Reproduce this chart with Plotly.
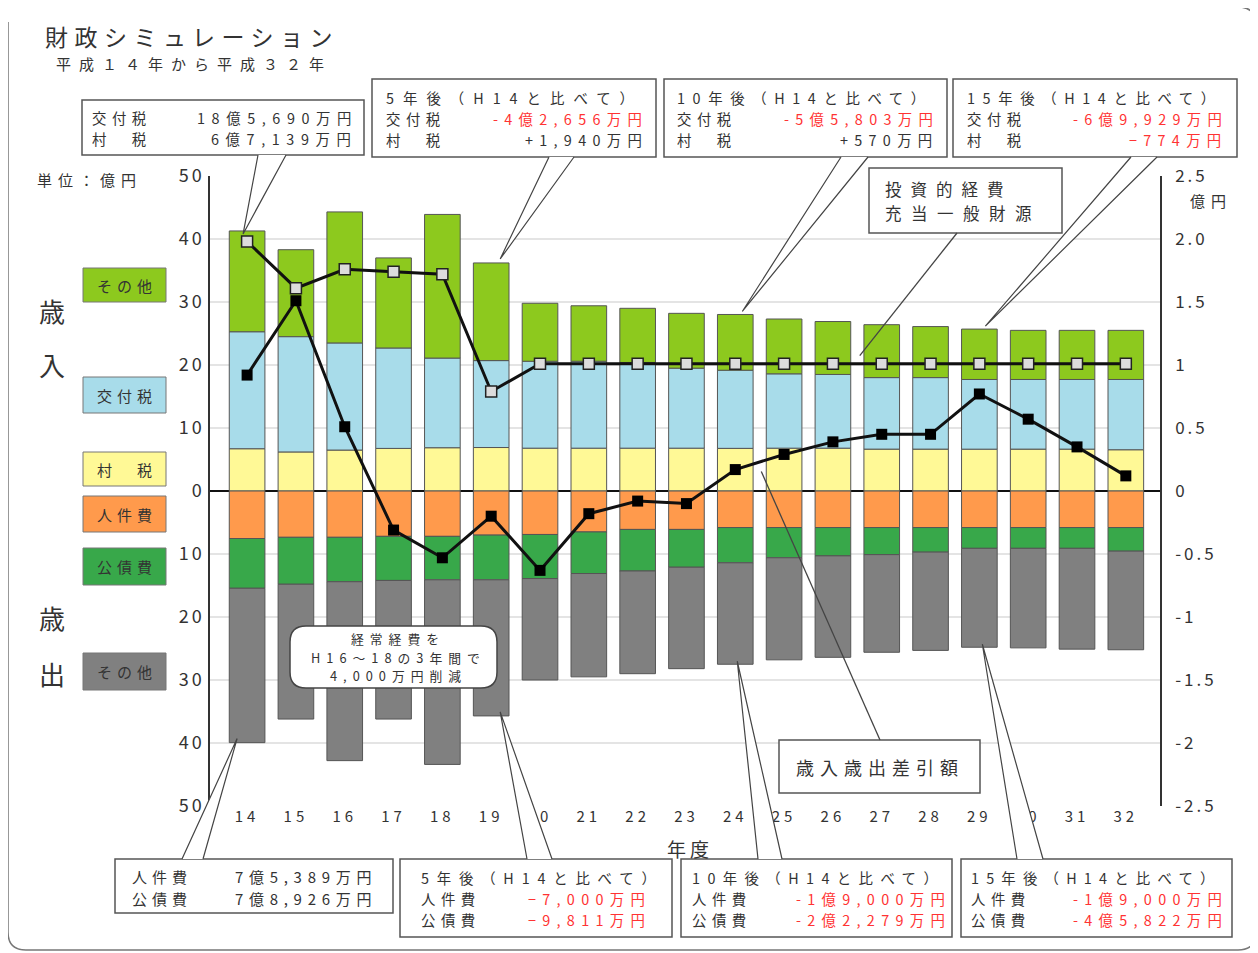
import plotly.graph_objects as go

# ---------------- data ----------------
years = ["14", "15", "16", "17", "18", "19", "20", "21", "22", "23",
         "24", "25", "26", "27", "28", "29", "30", "31", "32"]
# revenue (億円)
murazei = [6.71, 6.2, 6.5, 6.76, 6.87, 6.9, 6.8, 6.8, 6.8, 6.8,
           6.77, 6.8, 6.8, 6.65, 6.65, 6.64, 6.65, 6.65, 6.55]
kofuzei = [18.57, 18.3, 17.0, 15.94, 14.23, 13.8, 13.8, 13.8, 13.6, 12.7,
           12.4, 11.8, 11.7, 11.35, 11.35, 11.06, 11.05, 11.05, 11.15]
rev_other = [16.0, 13.8, 20.8, 14.3, 22.8, 15.5, 9.2, 8.8, 8.6, 8.7,
             8.85, 8.7, 8.4, 8.4, 8.1, 8.0, 7.8, 7.8, 7.8]
# expenditure (億円)
jinkenhi = [7.54, 7.35, 7.35, 7.2, 7.2, 7.0, 6.9, 6.5, 6.1, 6.1,
            5.8, 5.8, 5.8, 5.8, 5.8, 5.8, 5.8, 5.8, 5.8]
kosaihi = [7.9, 7.45, 7.05, 7.0, 6.9, 7.1, 7.0, 6.6, 6.6, 6.0,
           5.6, 4.8, 4.5, 4.3, 3.9, 3.3, 3.3, 3.3, 3.75]
exp_other = [24.5, 21.4, 28.4, 22.0, 29.3, 21.6, 16.1, 16.4, 16.3, 16.1,
             16.1, 16.2, 16.1, 15.5, 15.6, 15.7, 15.8, 16.0, 15.65]
# lines (right axis, 億円)
toshi = [1.98, 1.61, 1.76, 1.74, 1.72, 0.79, 1.01, 1.01, 1.01, 1.01,
         1.01, 1.01, 1.01, 1.01, 1.01, 1.01, 1.01, 1.01, 1.01]
sashihiki = [0.92, 1.51, 0.51, -0.31, -0.53, -0.20, -0.63, -0.18, -0.08, -0.10,
             0.17, 0.29, 0.39, 0.45, 0.45, 0.77, 0.57, 0.35, 0.12]

left_ticks = [-50, -40, -30, -20, -10, 0, 10, 20, 30, 40, 50]
right_ticks = [-2.5, -2, -1.5, -1, -0.5, 0, 0.5, 1, 1.5, 2, 2.5]
right_text = ["-2.5", "-2", "-1.5", "-1", "-0.5", "0", "0.5", "1", "1.5", "2.0", "2.5"]

# ---------------- style ----------------
FONT = "Noto Sans CJK JP"
TXT = "#333333"
RED = "#ff3333"
C_OTHER_R = "#8dc91e"
C_KOFU = "#a8dcea"
C_MURA = "#fff996"
C_JINKEN = "#ff9a4c"
C_KOSAI = "#38a84a"
C_OTHER_E = "#808080"
EDGE = "#555555"

OFF = 8                      # page body margin
FW, FH = 1250, 945
L, R, T, B = 210, 1160, 176, 806   # plot area in screen pixels
XR = [-0.76, 18.7]


def px(x):
    return (x - L) / (R - L)


def py(y):
    return (B - y) / (B - T)


def dx(i):
    return L + (i - XR[0]) / (XR[1] - XR[0]) * (R - L)


def dy(v):
    return B - (v + 50) / 100 * (B - T)


def sp(s, ls=0, color=None):
    st = []
    if ls:
        st.append("letter-spacing:{}px".format(ls))
    if color:
        st.append("color:" + color)
    return "<span style='{}'>{}</span>".format(";".join(st), s)


fig = go.Figure()

bar_common = dict(x=years, marker_line_color=EDGE, marker_line_width=1, hoverinfo="x+y")
fig.add_trace(go.Bar(name="村税", y=murazei, marker_color=C_MURA, **bar_common))
fig.add_trace(go.Bar(name="交付税", y=kofuzei, marker_color=C_KOFU, **bar_common))
fig.add_trace(go.Bar(name="その他(歳入)", y=rev_other, marker_color=C_OTHER_R, **bar_common))
fig.add_trace(go.Bar(name="人件費", y=[-v for v in jinkenhi], marker_color=C_JINKEN, **bar_common))
fig.add_trace(go.Bar(name="公債費", y=[-v for v in kosaihi], marker_color=C_KOSAI, **bar_common))
fig.add_trace(go.Bar(name="その他(歳出)", y=[-v for v in exp_other], marker_color=C_OTHER_E, **bar_common))

fig.add_trace(go.Scatter(name="投資的経費充当一般財源", x=years, y=toshi, yaxis="y2",
                         mode="lines+markers", line=dict(color="#111", width=3),
                         marker=dict(symbol="square", size=11, color="#dcdcdc",
                                     line=dict(color="#222", width=1.5))))
fig.add_trace(go.Scatter(name="歳入歳出差引額", x=years, y=sashihiki, yaxis="y2",
                         mode="lines+markers", line=dict(color="#111", width=3),
                         marker=dict(symbol="square", size=11, color="#000")))

shapes = []
annots = []


def box(x0, y0, x1, y1, fill="white", lw=1.5, color="#555"):
    shapes.append(dict(type="rect", xref="paper", yref="paper", layer="above",
                       x0=px(x0), x1=px(x1), y0=py(y1), y1=py(y0),
                       fillcolor=fill, line=dict(color=color, width=lw)))


def wedge(b1, b2, tip):
    path = "M {:.5f},{:.5f} L {:.5f},{:.5f} L {:.5f},{:.5f}".format(
        px(b1[0]), py(b1[1]), px(tip[0]), py(tip[1]), px(b2[0]), py(b2[1]))
    shapes.append(dict(type="path", xref="paper", yref="paper", layer="above",
                       path=path, fillcolor="white", line=dict(color="#444", width=1.2)))


def line(p1, p2):
    shapes.append(dict(type="line", xref="paper", yref="paper", layer="above",
                       x0=px(p1[0]), y0=py(p1[1]), x1=px(p2[0]), y1=py(p2[1]),
                       line=dict(color="#444", width=1.3)))


def text(x, y, s, size=17, anchor="left", color=TXT, ls=0):
    annots.append(dict(xref="paper", yref="paper", x=px(x), y=py(y),
                       text=sp(s, ls) if ls else s,
                       showarrow=False, xanchor=anchor, yanchor="middle", borderpad=0,
                       font=dict(family=FONT, size=size, color=color)))


# outer frame (open at top-left like the original)
fx0, fx1, fy0, fy1, r = 8, 1256, 7, 950, 18
frame = ("M {a},{b} L {c},{b} Q {d},{b} {d},{e} L {d},{f} Q {d},{g} {c},{g} "
         "L {h},{g} Q {i},{g} {i},{f} L {i},{j}").format(
    a=px(600), b=py(fy0), c=px(fx1 - r), d=px(fx1), e=py(fy0 + r), f=py(fy1 - r),
    g=py(fy1), h=px(fx0 + r), i=px(fx0), j=py(22))
shapes.append(dict(type="path", xref="paper", yref="paper", layer="below", path=frame,
                   line=dict(color="#777", width=1.5)))

# title
text(44, 36, "財政シミュレーション", size=23, ls=6.5)
text(55, 64, "平成１４年から平成３２年", size=15, ls=8)
text(36, 179, "単位：億円", size=15, ls=6)

# left legend boxes
legend_items = [("その他", C_OTHER_R, 268, 302), ("交付税", C_KOFU, 377, 413),
                ("村　税", C_MURA, 452, 486), ("人件費", C_JINKEN, 496, 532),
                ("公債費", C_KOSAI, 548, 585), ("その他", C_OTHER_E, 653, 690)]
for lab, col, y0, y1 in legend_items:
    box(83, y0, 166, y1, fill=col, lw=1, color="#777")
    text(127, (y0 + y1) / 2, lab, size=15, anchor="center", color="#333", ls=5)
for ch, yy in [("歳", 310), ("入", 364), ("歳", 617), ("出", 673)]:
    text(52, yy, ch, size=26, anchor="center")

# right axis unit
text(1189, 200, "億円", size=15, ls=6)

# x-axis title
text(690, 848, "年度", size=19, anchor="center", ls=4)

i14, i19, i24, i29 = 0, 5, 10, 15
top = [murazei[i] + kofuzei[i] + rev_other[i] for i in range(len(years))]
bot = [jinkenhi[i] + kosaihi[i] + exp_other[i] for i in range(len(years))]

FS = 14.4


def callout(x0, y0, x1, y1, header, labels, values, xl, xr, ys, size=FS, hls=8,
            lls=5.5, vls=6.3):
    box(x0, y0, x1, y1)
    k = 0
    if header:
        text(xl, ys[0], header, size=size, ls=hls)
        k = 1
    for j, lab in enumerate(labels):
        text(xl, ys[k + j], lab, size=size, ls=lls)
    for j, (val, col) in enumerate(values):
        text(xr + vls, ys[k + j], val, size=size, anchor="right", color=col or TXT, ls=vls)


# --- top callouts ---
callout(82, 100, 364, 155, None, ["交付税", "村　税"],
        [("18億5,690万円", None), ("6億7,139万円", None)], 91, 352, [117, 138], vls=6.6)
wedge((258, 155), (286, 155), (dx(i14) - 4, dy(top[i14]) + 3))

callout(372, 79, 656, 157, "5年後（H14と比べて）", ["交付税", "村　税"],
        [("-4億2,656万円", RED), ("+1,940万円", None)], 385, 643, [97.5, 118.5, 139.5],
        hls=9)
wedge((549, 157), (574, 157), (dx(i19) + 9, dy(top[i19]) - 4))

callout(664, 79, 947, 157, "10年後（H14と比べて）", ["交付税", "村　税"],
        [("-5億5,803万円", RED), ("+570万円", None)], 676, 934, [97.5, 118.5, 139.5],
        hls=7.6)
wedge((841, 157), (868, 157), (dx(i24) + 7, dy(top[i24]) - 3))

callout(953, 79, 1237, 157, "15年後（H14と比べて）", ["交付税", "村　税"],
        [("-6億9,929万円", RED), ("−774万円", RED)], 966, 1223, [97.5, 118.5, 139.5],
        hls=7.6)
wedge((1131, 157), (1157, 157), (dx(i29) + 6, dy(top[i29]) - 3))

# 投資的経費 label
box(869, 168, 1062, 233)
line((957, 233), (dx(12.55), dy(21.5)))
text(884, 189, "投資的経費", 16.5, ls=9)
text(884, 213, "充当一般財源", 16.5, ls=9.5)

# 歳入歳出差引額 label
box(779, 740, 980, 793)
line((880, 740), (dx(i24) + 26, dy(sashihiki[i24] * 20) + 2))
text(795, 767, "歳入歳出差引額", 18, ls=6)

# rounded note box
rx0, rx1, ry0, ry1, rr = 290, 497, 626, 688, 16
rpath = ("M {a},{b} L {c},{b} Q {d},{b} {d},{e} L {d},{f} Q {d},{g} {c},{g} "
         "L {a},{g} Q {h},{g} {h},{f} L {h},{e} Q {h},{b} {a},{b} Z").format(
    a=px(rx0 + rr), b=py(ry0), c=px(rx1 - rr), d=px(rx1), e=py(ry0 + rr),
    f=py(ry1 - rr), g=py(ry1), h=px(rx0))
shapes.append(dict(type="path", xref="paper", yref="paper", layer="above", path=rpath,
                   fillcolor="white", line=dict(color="#444", width=1.5)))
text(398, 638.5, "経常経費を", 12.8, "center", ls=6)
text(398, 657, "H16～18の3年間で", 12.8, "center", ls=6)
text(398, 675.5, "4,000万円削減", 12.8, "center", ls=6)

# --- bottom callouts ---
callout(115, 859, 393, 913, None, ["人件費", "公債費"],
        [("7億5,389万円", None), ("7億8,926万円", None)], 131, 372, [876, 898],
        size=15, lls=5, vls=5.7)
wedge((182, 859), (203, 859), (dx(i14) - 10, dy(-bot[i14]) - 4))

callout(400, 859, 672, 937, "5年後（H14と比べて）", ["人件費", "公債費"],
        [("−7,000万円", RED), ("−9,811万円", RED)], 420, 646, [877, 898, 919], hls=7.8)
wedge((527, 859), (552, 859), (dx(i19) + 9, dy(-bot[i19]) - 4))

callout(681, 859, 952, 937, "10年後（H14と比べて）", ["人件費", "公債費"],
        [("-1億9,000万円", RED), ("-2億2,279万円", RED)], 691, 946, [877, 898, 919],
        hls=7.4)
wedge((758, 859), (782, 859), (dx(i24) + 2, dy(-bot[i24]) - 3))

callout(961, 859, 1232, 937, "15年後（H14と比べて）", ["人件費", "公債費"],
        [("-1億9,000万円", RED), ("-4億5,822万円", RED)], 970, 1223, [877, 898, 919],
        hls=7.2)
wedge((1017, 859), (1043, 859), (dx(i29) + 3, dy(-bot[i29]) - 3))

fig.update_layout(
    width=FW, height=FH, autosize=False,
    margin=dict(l=L - OFF, r=FW - (R - OFF), t=T - OFF, b=FH - (B - OFF), pad=0),
    paper_bgcolor="white", plot_bgcolor="white",
    barmode="relative", bargap=0.27, showlegend=False,
    font=dict(family=FONT, color=TXT),
    xaxis=dict(type="category", range=XR, showgrid=False, showline=False,
               ticks="", tickfont=dict(size=15, color=TXT), fixedrange=True,
               tickvals=years, ticktext=[sp(y, 4) for y in years]),
    yaxis=dict(range=[-50, 50], tickvals=left_ticks,
               ticktext=[sp(str(abs(v)), 3) for v in left_ticks],
               tickfont=dict(size=18, color=TXT), showgrid=True, gridcolor="#e4e4e4",
               gridwidth=1.5, zeroline=True, zerolinecolor="#111", zerolinewidth=1.5,
               showline=True, linecolor="#333", linewidth=1.5, ticks="", fixedrange=True),
    yaxis2=dict(range=[-2.5, 2.5], overlaying="y", side="right", tickvals=right_ticks,
                ticktext=[sp(t, 3) for t in right_text], tickfont=dict(size=17, color=TXT),
                showgrid=False, zeroline=False, showline=True, linecolor="#333",
                linewidth=1.5, ticks="", fixedrange=True, ticklabelstandoff=10),
    shapes=shapes, annotations=annots,
)

fig.write_html("out.html")
